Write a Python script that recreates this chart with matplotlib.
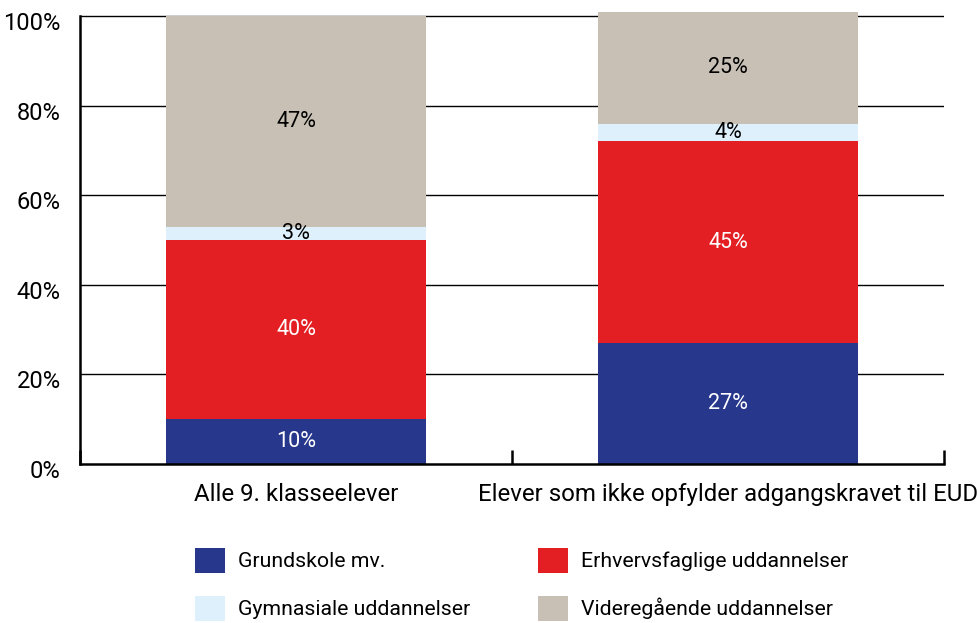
import matplotlib
matplotlib.use('Agg')
import matplotlib.pyplot as plt
import matplotlib.transforms as mtransforms
from matplotlib.patches import Patch
import numpy as np

plt.rcParams['font.family'] = ['Roboto', 'DejaVu Sans']

# Data
categories = ['Alle 9. klasseelever', 'Elever som ikke opfylder adgangskravet til EUD']
series = ['Grundskole mv.', 'Erhvervsfaglige uddannelser',
          'Gymnasiale uddannelser', 'Videregående uddannelser']
values = {
    'Grundskole mv.': [10, 27],
    'Erhvervsfaglige uddannelser': [40, 45],
    'Gymnasiale uddannelser': [3, 4],
    'Videregående uddannelser': [47, 25],
}
colors = {
    'Grundskole mv.': '#27378c',
    'Erhvervsfaglige uddannelser': '#e31f23',
    'Gymnasiale uddannelser': '#ddf0fb',
    'Videregående uddannelser': '#c8c0b4',
}
text_colors = {
    'Grundskole mv.': 'white',
    'Erhvervsfaglige uddannelser': 'white',
    'Gymnasiale uddannelser': 'black',
    'Videregående uddannelser': 'black',
}
yticks = [0, 20, 40, 60, 80, 100]

fig = plt.figure(figsize=(9.78, 6.23), dpi=100)
ax = fig.add_axes([80 / 978, 159 / 623, 864 / 978, 452.5 / 623])

x = np.arange(len(categories))
bottom = np.zeros(len(categories))
for s in series:
    vals = np.array(values[s], dtype=float)
    ax.bar(x, vals, 0.6, bottom=bottom, color=colors[s], zorder=3)
    for xi, b, v in zip(x, bottom, vals):
        ax.text(xi, b + v / 2, f'{int(v)}%', ha='center', va='center',
                fontsize=15.5, color=text_colors[s], zorder=4)
    bottom += vals

# gridlines
for t in yticks[1:]:
    ax.axhline(t, color='black', lw=1, zorder=1)

ax.set_xlim(-0.5, 1.5)
ax.set_ylim(0, 101)
for side in ['top', 'right']:
    ax.spines[side].set_visible(False)
ax.spines['left'].set_bounds(0, 100)
ax.spines['left'].set_linewidth(1.8)
ax.spines['bottom'].set_linewidth(1.8)
ax.spines['bottom'].set_zorder(5)

ax.set_yticks(yticks)
ax.set_yticklabels([f'{t}%' for t in yticks], fontsize=17)
ax.tick_params(axis='y', length=0, pad=14)
offset = mtransforms.ScaledTranslation(0, -5 / 100, fig.dpi_scale_trans)
for lbl in ax.get_yticklabels():
    lbl.set_transform(lbl.get_transform() + offset)

# category boundary ticks pointing up
ax.set_xticks([-0.5, 0.5, 1.5])
ax.set_xticklabels([])
ax.tick_params(axis='x', direction='in', length=10, width=1.8)
for xi, c in zip(x, categories):
    ax.text(xi, -6.7, c, ha='center', va='center', fontsize=17.3,
            transform=ax.transData, clip_on=False)

# legend: column-wise ordering
order = ['Grundskole mv.', 'Gymnasiale uddannelser',
         'Erhvervsfaglige uddannelser', 'Videregående uddannelser']
handles = [Patch(facecolor=colors[s], label=s) for s in order]
fig.legend(handles=handles, ncol=2, loc='upper left',
           bbox_to_anchor=(195 / 978, 1 - 548 / 623), frameon=False,
           borderpad=0, borderaxespad=0,
           fontsize=15.3, handlelength=1.41, handleheight=1.41,
           handletextpad=0.6, columnspacing=3.2, labelspacing=1.1)

fig.savefig('out.png', dpi=100)
